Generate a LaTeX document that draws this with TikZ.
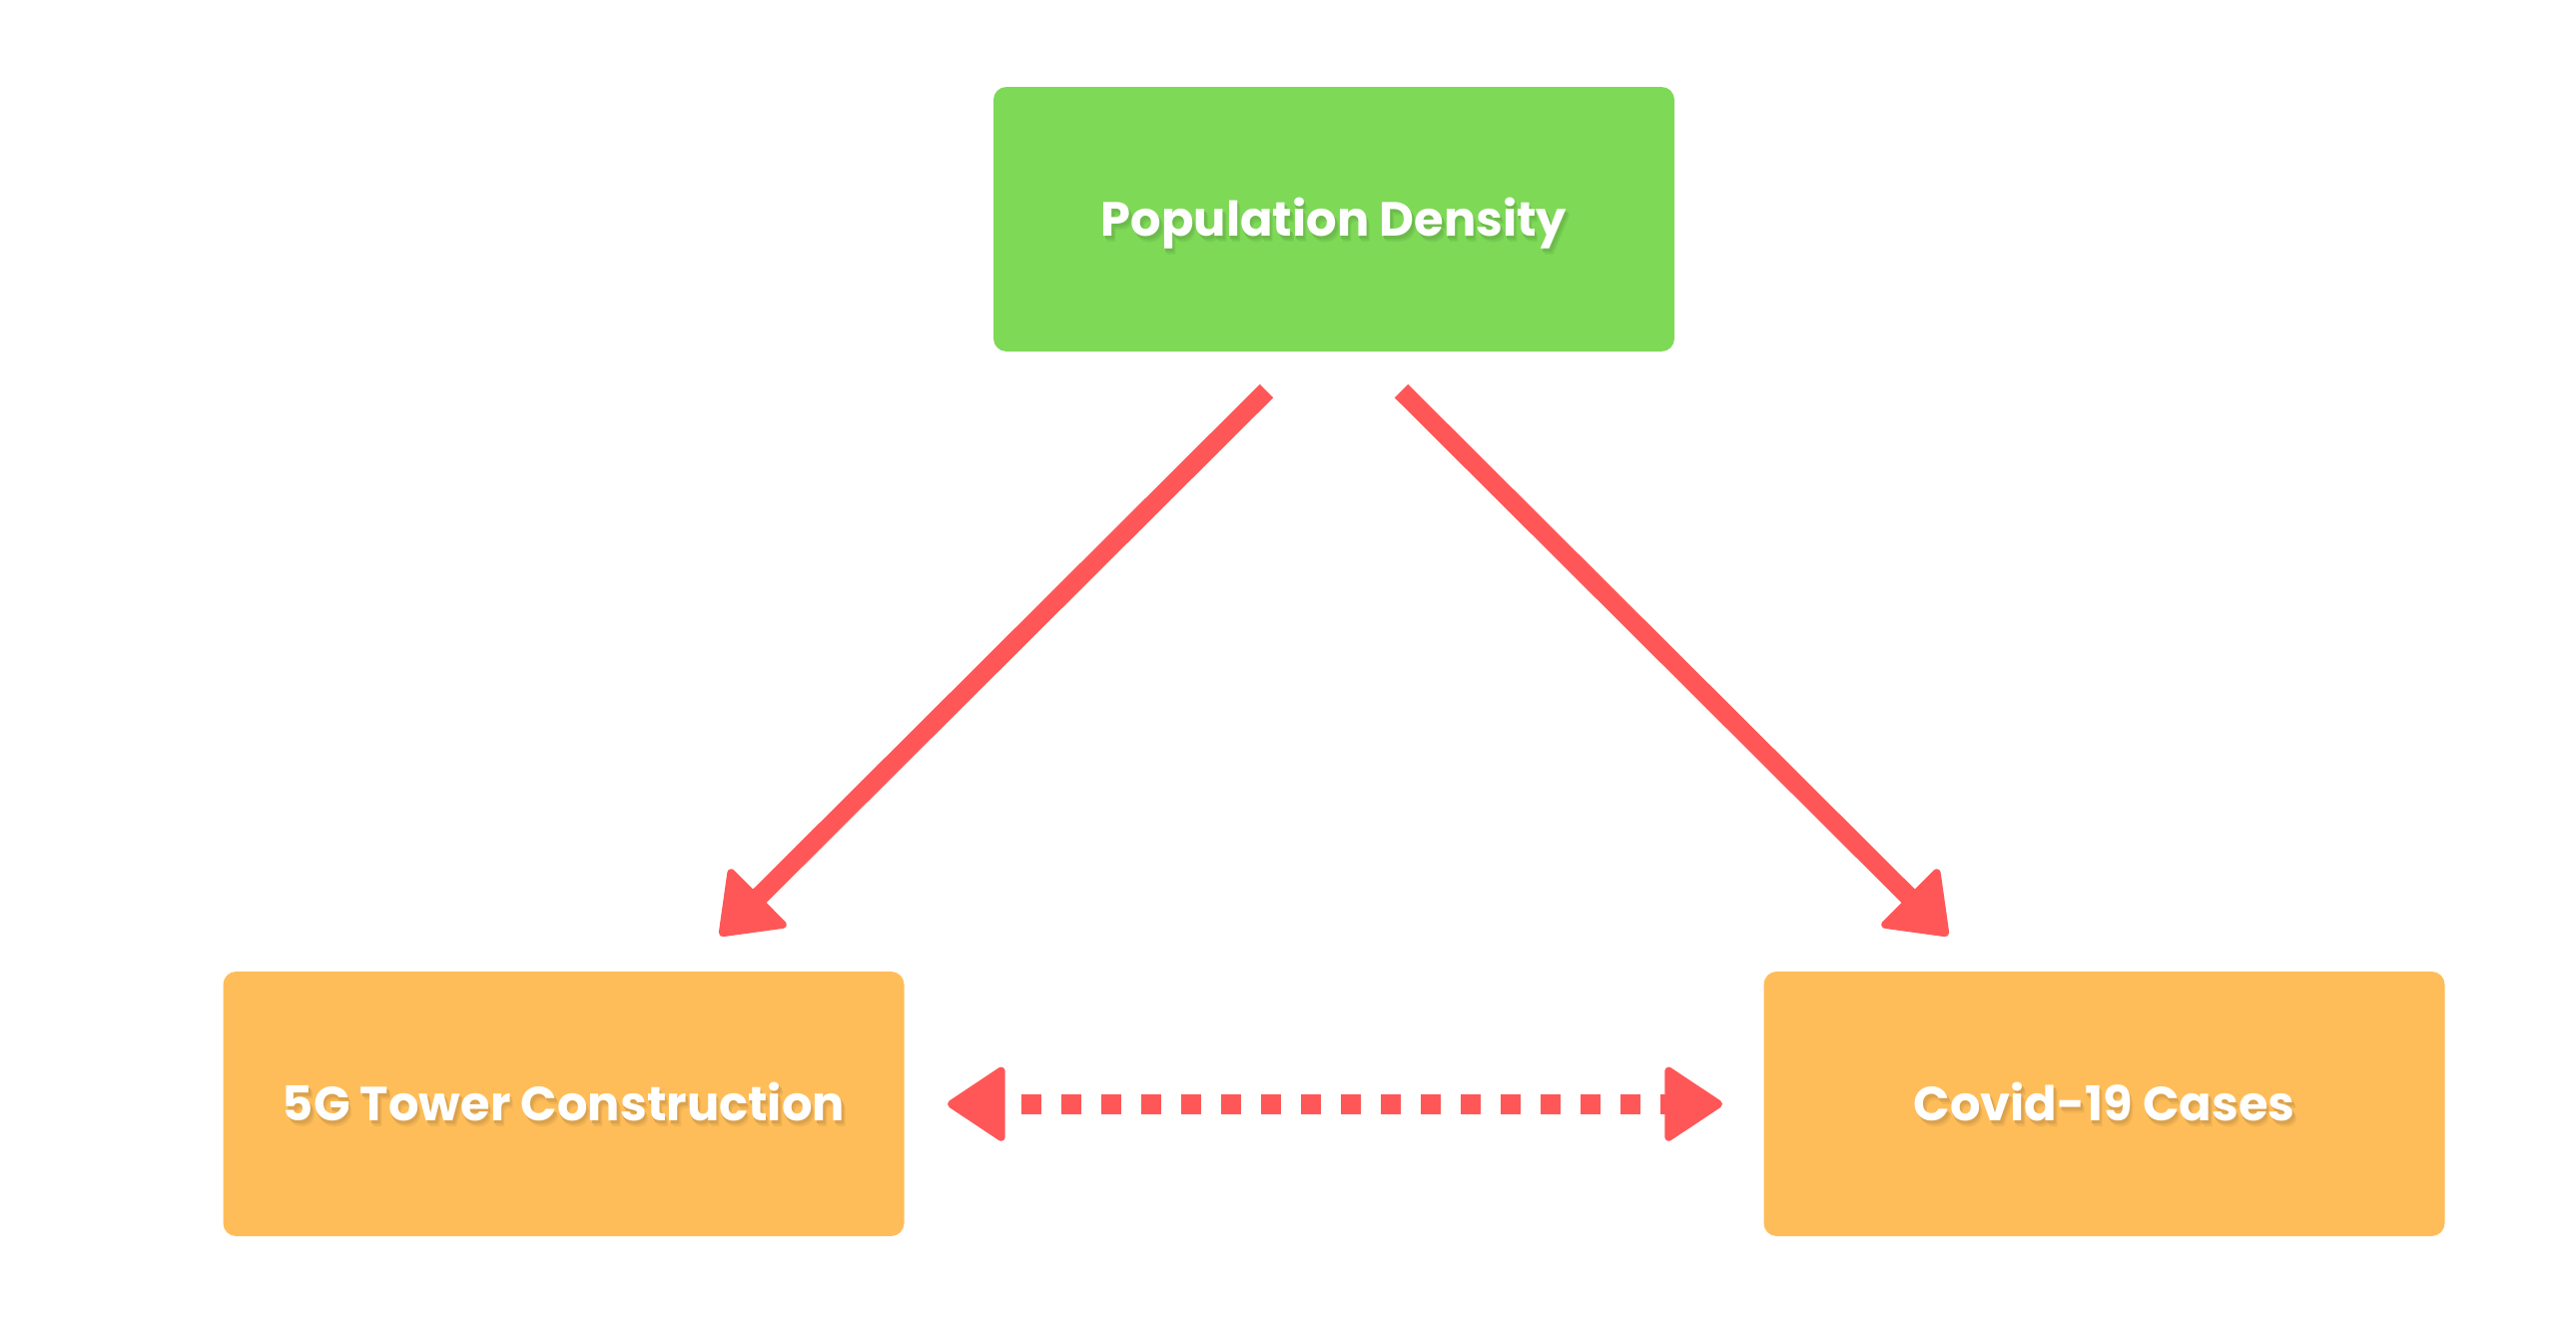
\documentclass[tikz,border=0pt]{standalone}
\usepackage{fontspec}
\setmainfont{Poppins}
\usetikzlibrary{arrows.meta,calc}
\definecolor{pgreen}{HTML}{7ED957}
\definecolor{porange}{HTML}{FFBD59}
\definecolor{pred}{HTML}{FF5757}
\newcommand\shadowed[2]{\leavevmode
  \rlap{\kern3.5pt\raisebox{-5.5pt}{\textcolor{#1!94!black}{#2}}}%
  \rlap{\kern2.5pt\raisebox{-4pt}{\textcolor{#1!90!black}{#2}}}%
  \rlap{\kern1.5pt\raisebox{-2.5pt}{\textcolor{#1!86!black}{#2}}}%
  \textcolor{white}{#2}}
\tikzset{
  box/.style={rectangle, rounded corners=13pt, minimum width=682pt, minimum height=265pt, inner sep=0pt},
  lbl/.style={font=\fontsize{48}{56}\selectfont\bfseries, text depth=0pt, text height=34pt},
  conn/.style={draw=pred, line width=19pt, -{Triangle[length=59pt,width=87pt,round,line width=8pt]}},
  dconn/.style={draw=pred, line width=20pt, dash pattern=on 20pt off 20pt, dash phase=21.5pt,
    {Triangle[length=61pt,width=79pt,round,line width=8pt]}-{Triangle[length=61pt,width=79pt,round,line width=8pt]}}
}
\begin{document}
\begin{tikzpicture}[x=1pt,y=-1pt]
\useasboundingbox (0,0) rectangle (2580,1323);
\fill[white] (0,0) rectangle (2580,1323);
\node[box, fill=pgreen, lbl] (pd) at (1336,219.5) {\shadowed{pgreen}{Population Density}};
\node[box, fill=porange, lbl] (tw) at (564.5,1105.5) {\shadowed{porange}{5G Tower Construction}};
\node[box, fill=porange, lbl] (cv) at (2107.5,1105.5) {\shadowed{porange}{Covid-19 Cases}};
\coordinate (s1) at (1268.5,391.6);
\coordinate (e1) at (721,937);
\coordinate (s2) at (1403.5,391.6);
\coordinate (e2) at (1951,937);
\coordinate (d1) at (949,1105.7);
\coordinate (d2) at (1725,1105.7);
\draw[conn] (s1) -- (e1);
\draw[conn] (s2) -- (e2);
\draw[dconn] (d1) -- (d2);
\end{tikzpicture}
\end{document}
